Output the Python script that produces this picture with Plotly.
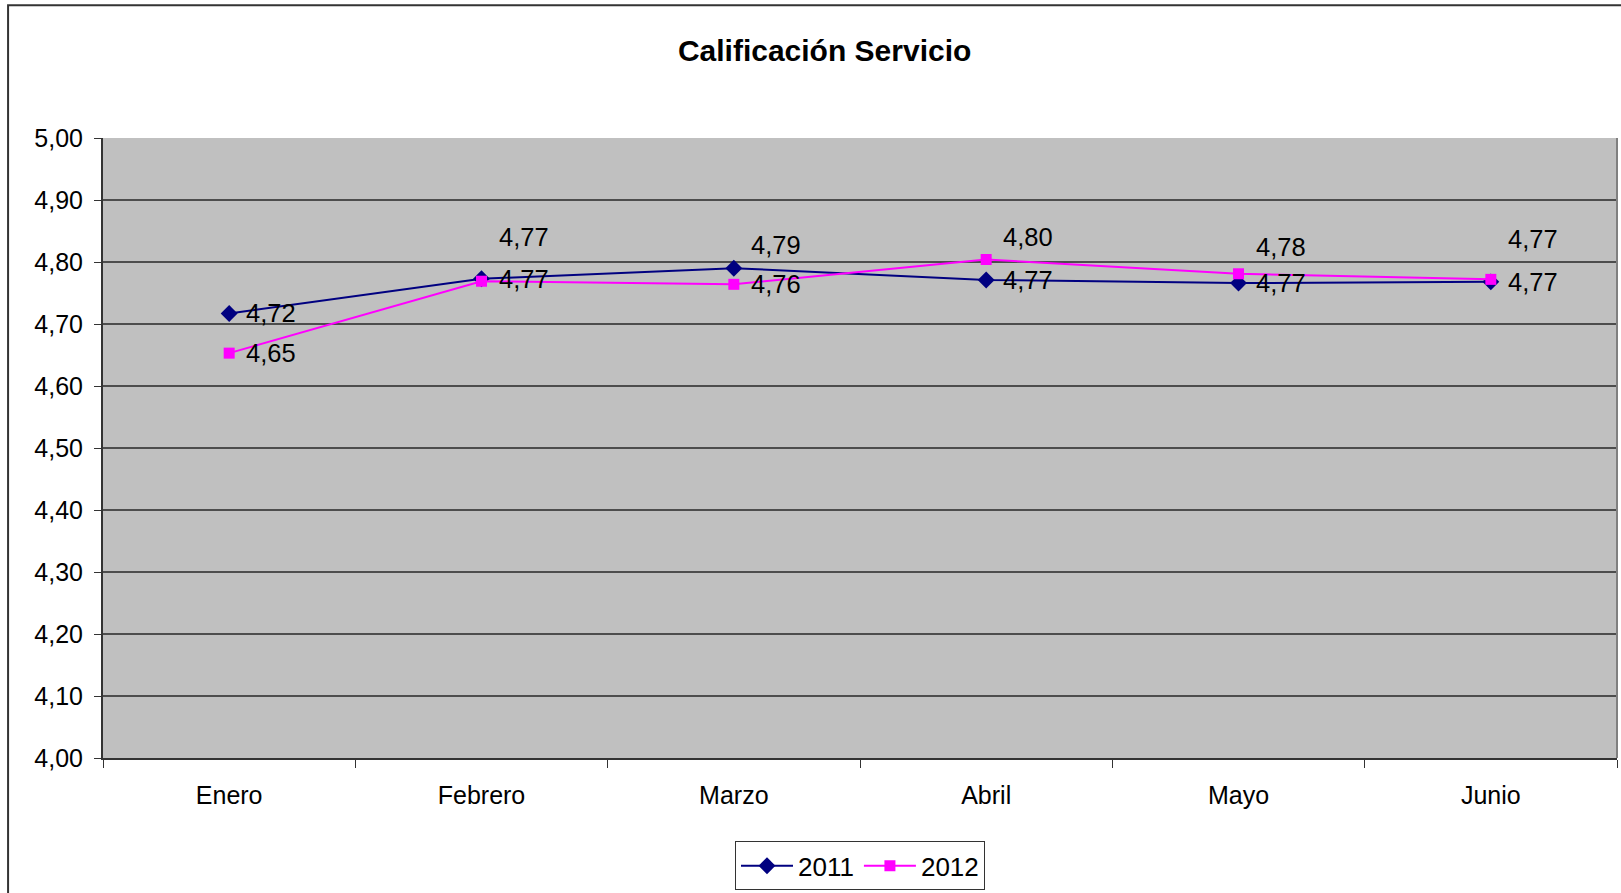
import plotly.graph_objects as go

# Monthly service rating, first semester
months = ["Enero", "Febrero", "Marzo", "Abril", "Mayo", "Junio"]
rating_2011 = [4.717, 4.773, 4.790, 4.771, 4.766, 4.768]
rating_2012 = [4.653, 4.769, 4.764, 4.804, 4.781, 4.772]
y_ticks = [4.00, 4.10, 4.20, 4.30, 4.40, 4.50, 4.60, 4.70, 4.80, 4.90, 5.00]

FONT = "Liberation Sans, Arial, sans-serif"
NAVY = "#000080"
MAGENTA = "#FF00FF"

# vertical offsets (px) of the value labels, moved up where they would collide
label_lift = {
    "2011": [0, 0, 23, 0, 0, 0],
    "2012": [0, 44, 0, 23, 27, 40],
}

fig = go.Figure()
fig.add_trace(go.Scatter(
    x=months, y=rating_2011, name="2011", mode="lines+markers",
    line=dict(color=NAVY, width=2),
    marker=dict(symbol="diamond", size=13, color=NAVY),
))
fig.add_trace(go.Scatter(
    x=months, y=rating_2012, name="2012", mode="lines+markers",
    line=dict(color=MAGENTA, width=2),
    marker=dict(symbol="square", size=11, color=MAGENTA),
))

annotations = []
for series, values in (("2011", rating_2011), ("2012", rating_2012)):
    for m, v, lift in zip(months, values, label_lift[series]):
        annotations.append(dict(
            x=m, y=v, xref="x", yref="y",
            text=f"{v:.2f}".replace(".", ","),
            showarrow=False, xanchor="left", yanchor="middle",
            xshift=15, yshift=lift,
            font=dict(family=FONT, size=25.5, color="black"),
        ))

# outer chart frame
shapes = [dict(
    type="rect", xref="paper", yref="paper",
    x0=-0.0627, x1=1.02, y0=-0.3, y1=1.2142,
    line=dict(color="#333333", width=2), fillcolor="rgba(0,0,0,0)",
    layer="below",
)]

fig.update_layout(
    width=1621, height=893,
    margin=dict(l=103, r=4, t=138, b=134),
    paper_bgcolor="white",
    plot_bgcolor="#C0C0C0",
    separators=",.",
    font=dict(family=FONT, size=25, color="black"),
    title=dict(
        text="<b>Calificación Servicio</b>",
        x=0.5087, y=0.944, xref="container", yref="container",
        xanchor="center", yanchor="middle",
        font=dict(family=FONT, size=30, color="black"),
    ),
    xaxis=dict(
        type="category", range=[-0.5, 5.5],
        tickson="boundaries", ticks="outside", ticklen=8,
        tickcolor="#333333", tickwidth=1,
        showline=True, linecolor="#333333", linewidth=2,
        showgrid=False, zeroline=False,
        ticklabelstandoff=14,
        tickfont=dict(family=FONT, size=25, color="black"),
    ),
    yaxis=dict(
        range=[4.0, 5.0], tickvals=y_ticks, tickformat=".2f",
        ticks="outside", ticklen=7, tickcolor="#333333",
        showline=True, linecolor="#333333", linewidth=2,
        showgrid=True, gridcolor="#4d4d4d", gridwidth=1.5,
        zeroline=False,
        ticklabelstandoff=6,
        tickfont=dict(family=FONT, size=25, color="black"),
    ),
    legend=dict(
        orientation="h", x=0.5, y=-0.172, xanchor="center", yanchor="middle",
        bgcolor="white", bordercolor="#333333", borderwidth=1,
        font=dict(family=FONT, size=26, color="black"),
        itemwidth=52,
    ),
    showlegend=True,
    annotations=annotations,
    shapes=shapes,
)

# right edge of the plot area
fig.add_shape(type="line", xref="paper", yref="paper", x0=1, x1=1, y0=0, y1=1,
              line=dict(color="#808080", width=2))

fig.write_html("out.html")
